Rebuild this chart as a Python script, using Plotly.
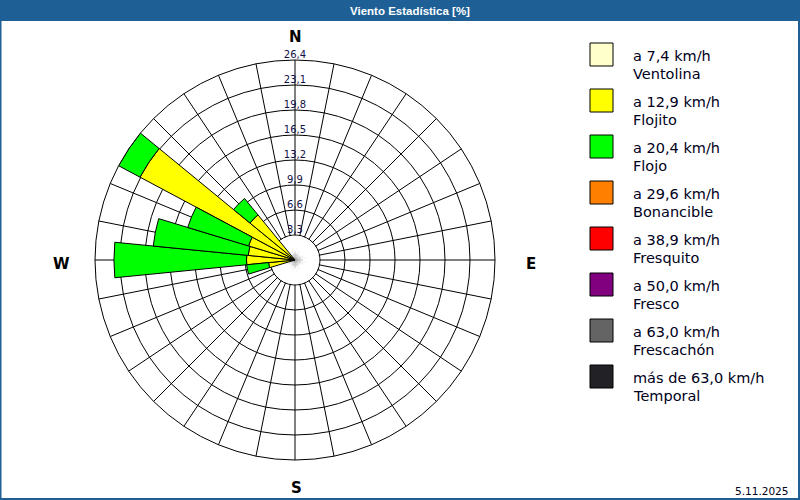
import plotly.graph_objects as go

# ---- data ----
directions = [258.75, 270, 281.25, 292.5, 303.75, 315]
all_directions = [i * 11.25 for i in range(32)]
cat_names = ["Ventolina", "Flojito", "Flojo", "Bonancible", "Fresquito", "Fresco", "Frescachón", "Temporal"]
cat_limits = ["a 7,4 km/h", "a 12,9 km/h", "a 20,4 km/h", "a 29,6 km/h", "a 38,9 km/h",
              "a 50,0 km/h", "a 63,0 km/h", "más de 63,0 km/h"]
cat_colors = ["#FFFFCC", "#FFFF00", "#00FF00", "#FF8000", "#FF0000", "#800080", "#646464", "#222226"]
ventolina = [0, 0, 0, 0, 0, 0]
flojito = [3.5, 6.4, 6.2, 6.4, 23.2, 7.7]
flojo = [2.9, 17.5, 12.6, 8.4, 3.2, 2.8]
bonancible = [0, 0, 0, 0, 0, 0]
fresquito = [0, 0, 0, 0, 0, 0]
fresco = [0, 0, 0, 0, 0, 0]
frescachon = [0, 0, 0, 0, 0, 0]
temporal = [0, 0, 0, 0, 0, 0]
series = [ventolina, flojito, flojo, bonancible, fresquito, fresco, frescachon, temporal]
radial_ticks = [3.3, 6.6, 9.9, 13.2, 16.5, 19.8, 23.1, 26.4]
radial_tick_text = ["3,3", "6,6", "9,9", "13,2", "16,5", "19,8", "23,1", "26,4"]
compass = ["N", "E", "S", "W"]
title_text = "Viento Estadística [%]"
date_text = "5.11.2025"

W, H = 800, 500
CX, CY, R = 295, 260, 200
FONT = "DejaVu Sans"

fig = go.Figure()

# white inner disc hiding the spokes inside the first ring (drawn first, below the bars)
fig.add_trace(go.Barpolar(
    r=[radial_ticks[0] * 0.97] * len(all_directions), theta=all_directions,
    width=[11.25] * len(all_directions), base=[0] * len(all_directions),
    marker=dict(color="white", line=dict(width=0)), showlegend=False, hoverinfo="skip"))

base = [0] * len(directions)
for name, vals, col in zip(cat_names, series, cat_colors):
    fig.add_trace(go.Barpolar(
        r=vals, theta=directions, base=list(base), width=[11.25] * len(directions), name=name,
        marker=dict(color=col, line=dict(color="black", width=1)),
        showlegend=False))
    base = [b + v for b, v in zip(base, vals)]

# radial tick labels along north axis
fig.add_trace(go.Scatterpolar(
    r=radial_ticks, theta=[0] * len(radial_ticks), mode="text", text=radial_tick_text,
    textposition="top center", textfont=dict(family=FONT, size=10, color="#101048"),
    showlegend=False, hoverinfo="skip", cliponaxis=False))

fig.update_layout(
    width=W, height=H, margin=dict(l=0, r=0, t=0, b=0),
    paper_bgcolor="white", plot_bgcolor="white",
    polar=dict(
        domain=dict(x=[(CX - R) / W, (CX + R) / W], y=[(H - CY - R) / H, (H - CY + R) / H]),
        bgcolor="white", barmode="overlay", bargap=0,
        radialaxis=dict(range=[0, radial_ticks[-1]], tickvals=radial_ticks, showticklabels=False,
                        ticks="", showline=False, gridcolor="black", gridwidth=1),
        angularaxis=dict(rotation=90, direction="clockwise", dtick=11.25, showticklabels=False,
                         ticks="", showline=True, linecolor="black", linewidth=1,
                         gridcolor="black", gridwidth=1),
    ),
)

shapes = []
annotations = []
# title bar
shapes.append(dict(type="rect", xref="paper", yref="paper", x0=0, x1=1, y0=1 - 21 / H, y1=1,
                   fillcolor="#1E5F96", line=dict(width=0), layer="above"))
annotations.append(dict(text="<b>" + title_text + "</b>", x=410 / W, y=1 - 10.5 / H, xref="paper", yref="paper",
                        showarrow=False, xanchor="center", yanchor="middle",
                        font=dict(family="Liberation Sans", size=11.5, color="white")))
# outer frame
shapes.append(dict(type="rect", xref="paper", yref="paper", x0=0.5 / W, x1=1 - 1 / W, y0=1 / H, y1=1,
                   fillcolor="rgba(0,0,0,0)", line=dict(color="#1E5F96", width=2), layer="above"))

# compass letters
compass_pos = {"N": (295, 37), "E": (531, 264), "S": (296, 488), "W": (61, 264)}
for c in compass:
    x, y = compass_pos[c]
    annotations.append(dict(text="<b>" + c + "</b>", x=x / W, y=1 - y / H, xref="paper", yref="paper",
                            showarrow=False, xanchor="center", yanchor="middle",
                            font=dict(family=FONT, size=15, color="black")))

# legend
for i, (lim, name, col) in enumerate(zip(cat_limits, cat_names, cat_colors)):
    top = 43 + 46 * i
    shapes.append(dict(type="rect", xref="paper", yref="paper", x0=590 / W, x1=613 / W,
                       y0=1 - (top + 23) / H, y1=1 - top / H, fillcolor=col,
                       line=dict(color="black", width=1)))
    annotations.append(dict(text=lim, x=631 / W, y=1 - (top + 13) / H, xref="paper", yref="paper",
                            showarrow=False, xanchor="left", yanchor="middle",
                            font=dict(family=FONT, size=14.5, color="#000020")))
    annotations.append(dict(text=name, x=631 / W, y=1 - (top + 31) / H, xref="paper", yref="paper",
                            showarrow=False, xanchor="left", yanchor="middle",
                            font=dict(family=FONT, size=14.5, color="#000020")))

annotations.append(dict(text=date_text, x=790 / W, y=1 - 491 / H, xref="paper", yref="paper",
                        showarrow=False, xanchor="right", yanchor="middle",
                        font=dict(family=FONT, size=10.5, color="#000020")))

fig.update_layout(shapes=shapes, annotations=annotations)
fig.write_html("out.html", config={"displayModeBar": False},
               post_script="document.body.style.margin='0';document.body.style.padding='0';")
